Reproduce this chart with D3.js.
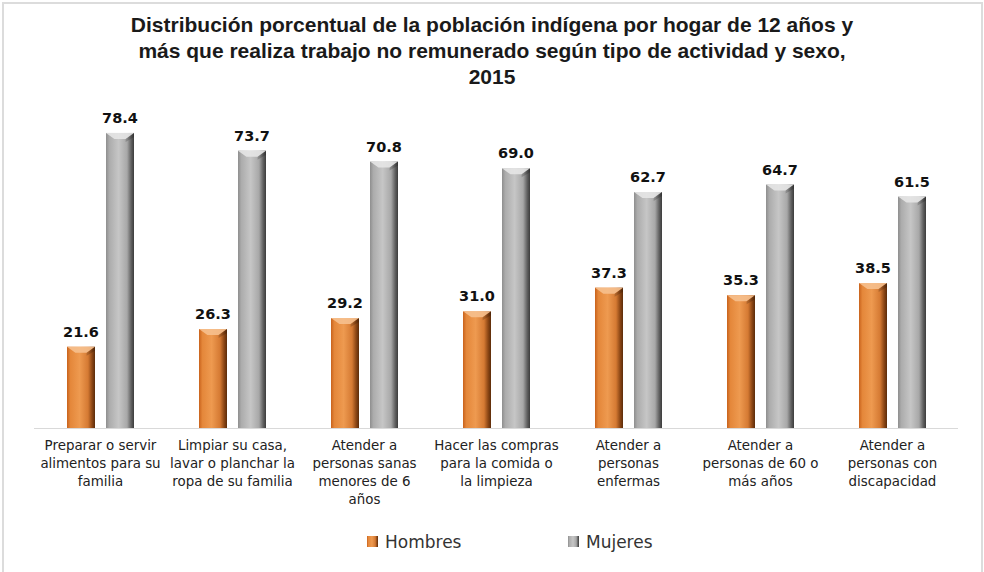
<!DOCTYPE html>
<html><head><meta charset="utf-8">
<script src="https://cdn.jsdelivr.net/npm/d3@7/dist/d3.min.js"></script>
<style>body{margin:0;background:#fff}svg{display:block}</style>
</head><body>
<svg id="c" width="984" height="572"></svg>
<script>
const categories = [
  ["Preparar o servir","alimentos para su","familia"],
  ["Limpiar su casa,","lavar o planchar la","ropa de su familia"],
  ["Atender a","personas sanas","menores de 6","años"],
  ["Hacer las compras","para la comida o","la limpieza"],
  ["Atender a","personas","enfermas"],
  ["Atender a","personas de 60 o","más años"],
  ["Atender a","personas con","discapacidad"]
];
const hombres = [21.6, 26.3, 29.2, 31.0, 37.3, 35.3, 38.5];
const mujeres = [78.4, 73.7, 70.8, 69.0, 62.7, 64.7, 61.5];
const seriesNames = ["Hombres", "Mujeres"];
const titleLines = [
  "Distribución porcentual de la población indígena por hogar de 12 años y",
  "más que realiza trabajo no remunerado según tipo de actividad y sexo,",
  "2015"
];

const svg = d3.select("#c");
const W = 984, H = 572;
svg.append("rect").attr("x",3).attr("y",3).attr("width",W-5).attr("height",H+4)
  .attr("fill","#fff").attr("stroke","#dcdcdc").attr("stroke-width",2);

const defs = svg.append("defs");
function grad(id, stops){
  const g = defs.append("linearGradient").attr("id",id).attr("x1","0").attr("x2","1").attr("y1","0").attr("y2","0");
  stops.forEach(s=>g.append("stop").attr("offset",s[0]).attr("stop-color",s[1]));
}
grad("gO", [[0,"#c8621c"],[0.12,"#e4873a"],[0.45,"#ee9a50"],[0.75,"#d57a33"],[0.9,"#8a4514"],[1,"#5c2c0a"]]);
grad("gG", [[0,"#8e8e8e"],[0.12,"#acacac"],[0.45,"#c6c6c6"],[0.75,"#a8a8a8"],[0.9,"#606060"],[1,"#3c3c3c"]]);
const topCol = {gO:"#f6c08e", gG:"#e6e6e6"};

// title
const title = svg.append("g").attr("font-family","'Liberation Sans', Arial, sans-serif")
  .attr("font-weight","bold").attr("font-size",21).attr("fill","#1a1a1a").attr("text-anchor","middle");
titleLines.forEach((t,i)=>title.append("text").attr("x",492).attr("y",32+i*26).text(t));

const baseY = 428;
const x0 = d3.scaleBand().domain(d3.range(categories.length)).range([34.5, 958.5]);
const y = d3.scaleLinear().domain([0, 90]).range([baseY, baseY - 338.7]);
const x1 = d3.scaleOrdinal().domain([0,1]).range([-33.5, 5.5]);
const bw = 28;

// baseline
svg.append("line").attr("x1",34).attr("x2",958).attr("y1",baseY+0.5).attr("y2",baseY+0.5)
  .attr("stroke","#d9d9d9").attr("stroke-width",1);

const series = [hombres, mujeres];
const gids = ["gO","gG"];
series.forEach((vals, si)=>{
  const g = svg.append("g");
  vals.forEach((v, ci)=>{
    const bx = x0(ci) + x0.bandwidth()/2 + x1(si);
    const top = y(v);
    g.append("rect").attr("x",bx).attr("y",top).attr("width",bw).attr("height",baseY-top)
      .attr("fill",`url(#${gids[si]})`);
    // bevelled top highlight
    g.append("path").attr("d",
      `M${bx},${top} L${bx+bw},${top} L${bx+bw*0.7},${top+6} L${bx+bw*0.3},${top+6} Z`)
      .attr("fill",topCol[gids[si]]).attr("opacity",0.9);
    g.append("path").attr("d",
      `M${bx+bw},${top} L${bx+bw*0.7},${top+6} L${bx+bw*0.7},${top+9} L${bx+bw},${top+4} Z`)
      .attr("fill","#000").attr("opacity",0.18);
    g.append("text").attr("x",bx+bw/2).attr("y",top-10)
      .attr("text-anchor","middle").attr("font-family","'DejaVu Sans', Verdana, sans-serif")
      .attr("font-weight","bold").attr("font-size",14.5).attr("fill","#111")
      .text(v.toFixed(1));
  });
});

// category labels
const cl = svg.append("g").attr("font-family","'DejaVu Sans', Verdana, sans-serif")
  .attr("font-size",13.4).attr("fill","#222").attr("text-anchor","middle");
categories.forEach((lines, ci)=>{
  const cx = x0(ci) + x0.bandwidth()/2;
  lines.forEach((t,li)=>cl.append("text").attr("x",cx).attr("y",450+li*18).text(t));
});

// legend
const leg = svg.append("g").attr("font-family","'DejaVu Sans', Verdana, sans-serif")
  .attr("font-size",17).attr("fill","#333");
const legX = [367, 568];
seriesNames.forEach((n,i)=>{
  leg.append("rect").attr("x",legX[i]).attr("y",536).attr("width",11).attr("height",11)
    .attr("fill",`url(#${gids[i]})`);
  leg.append("text").attr("x",legX[i]+18).attr("y",548).text(n);
});
</script>
</body></html>
